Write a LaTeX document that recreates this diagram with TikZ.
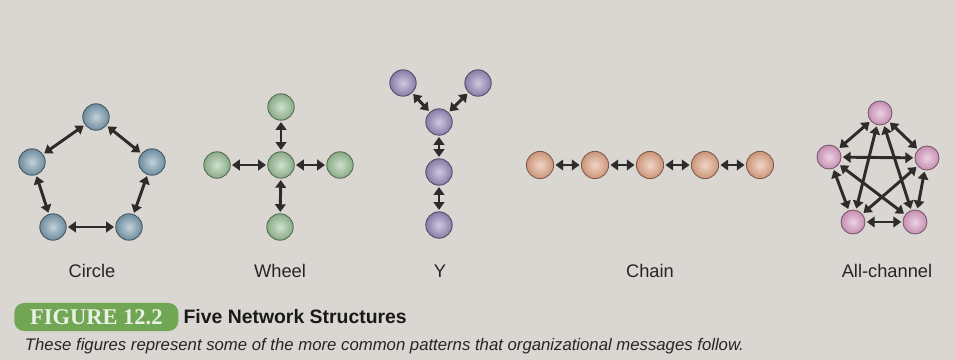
\documentclass[tikz,border=0pt]{standalone}
\usepackage{fontspec}
\setmainfont{Liberation Serif}
\setsansfont{Liberation Sans}
\usetikzlibrary{arrows.meta, shadings}

\definecolor{paper}{HTML}{DAD7D2}
\definecolor{figgreen}{HTML}{71A655}
\definecolor{arrowgray}{HTML}{2E2B2B}
\definecolor{circblue}{HTML}{7899AC}
\definecolor{wheelgreen}{HTML}{95BA91}
\definecolor{ypurple}{HTML}{9586B6}
\definecolor{chainpeach}{HTML}{DDA283}
\definecolor{allpink}{HTML}{D69BC0}

\begin{document}
\begin{tikzpicture}[x=0.025cm, y=-0.025cm,
    member/.style={circle, minimum size=0.66cm, inner sep=0pt, draw=#1!55!black, line width=0.6pt,
      shading=radial, inner color=#1!45!white, outer color=#1!92!black},
    link/.style={{Triangle[length=5.5pt,width=7.5pt]}-{Triangle[length=5.5pt,width=7.5pt]}, line width=2.1pt,
      draw=arrowgray, shorten <=1pt, shorten >=1pt},
    caption/.style={font=\sffamily\fontsize{13}{15}\selectfont, text=black!85}]
  \fill[paper] (0,0) rectangle (955,360);
  \useasboundingbox (0,0) rectangle (955,360);

  % circle
  \node[member=circblue] (c1) at (96,117) {};
  \node[member=circblue] (c2) at (152,162) {};
  \node[member=circblue] (c3) at (129,227) {};
  \node[member=circblue] (c4) at (53,227) {};
  \node[member=circblue] (c5) at (32,162) {};
  \foreach \a/\b in {c1/c2, c2/c3, c3/c4, c4/c5, c5/c1}
    \draw[link] (\a) -- (\b);
  \node[caption] (ccap) at (92,271) {Circle};

  % wheel
  \node[member=wheelgreen] (w0) at (281,165) {};
  \node[member=wheelgreen] (wn) at (281,107) {};
  \node[member=wheelgreen] (we) at (340,165) {};
  \node[member=wheelgreen] (ws) at (280,227) {};
  \node[member=wheelgreen] (ww) at (217,165) {};
  \foreach \b in {wn, we, ws, ww}
    \draw[link] (w0) -- (\b);
  \node[caption] (wcap) at (280,271) {Wheel};

  % y
  \node[member=ypurple] (y1) at (403,83) {};
  \node[member=ypurple] (y2) at (478,83) {};
  \node[member=ypurple] (y3) at (439,122) {};
  \node[member=ypurple] (y4) at (439,172) {};
  \node[member=ypurple] (y5) at (439,225) {};
  \foreach \a/\b in {y1/y3, y2/y3, y3/y4, y4/y5}
    \draw[link] (\a) -- (\b);
  \node[caption] (ycap) at (440,271) {Y};

  % chain
  \foreach \i/\x in {1/540, 2/595, 3/650, 4/705, 5/760}
    \node[member=chainpeach, minimum size=0.68cm] (h\i) at (\x,165) {};
  \foreach \a/\b in {1/2, 2/3, 3/4, 4/5}
    \draw[link] (h\a) -- (h\b);
  \node[caption] (hcap) at (650,271) {Chain};

  % all-channel
  \node[member=allpink, minimum size=0.6cm] (a1) at (880,113) {};
  \node[member=allpink, minimum size=0.6cm] (a2) at (927,158) {};
  \node[member=allpink, minimum size=0.6cm] (a3) at (915,222) {};
  \node[member=allpink, minimum size=0.6cm] (a4) at (853,222) {};
  \node[member=allpink, minimum size=0.6cm] (a5) at (829,157) {};
  \foreach \a/\b in {a1/a2, a1/a3, a1/a4, a1/a5, a2/a3, a2/a4, a2/a5, a3/a4, a3/a5, a4/a5}
    \draw[link] (\a) -- (\b);
  \node[caption] (acap) at (887,271) {All-channel};

  % figure caption
  \node[fill=figgreen, rounded corners=7pt, text=white!85!figgreen, font=\rmfamily\bfseries\fontsize{16}{18}\selectfont,
        minimum width=4.1cm, minimum height=0.7cm, anchor=west] (fig) at (14,317) {FIGURE 12.2};
  \node[anchor=west, font=\sffamily\bfseries\fontsize{13.8}{16}\selectfont, text=black!90] (title) at (fig.east) {Five Network Structures};
  \node[anchor=west, font=\sffamily\itshape\fontsize{11.9}{14}\selectfont, text=black!85] (note) at (20,346)
    {These figures represent some of the more common patterns that organizational messages follow.};
\end{tikzpicture}
\end{document}
